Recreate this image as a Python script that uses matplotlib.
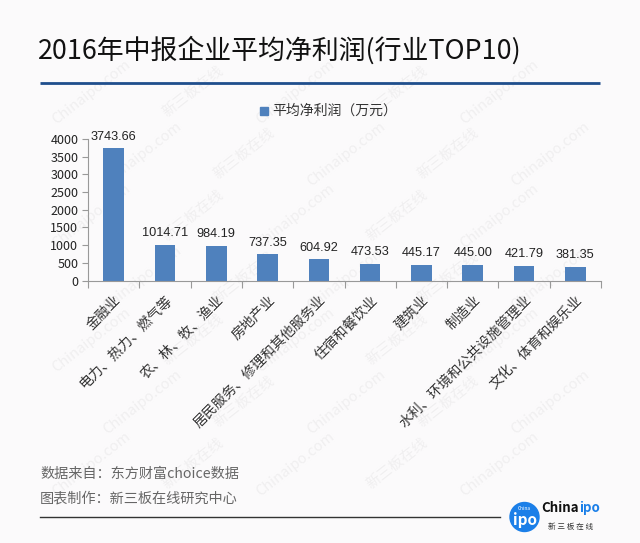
import matplotlib.pyplot as plt
from matplotlib.patches import Circle, Rectangle

plt.rcParams['font.family'] = ['Noto Sans CJK SC', 'DejaVu Sans']

categories = ["金融业", "电力、热力、燃气等", "农、林、牧、渔业", "房地产业", "居民服务、修理和其他服务业",
              "住宿和餐饮业", "建筑业", "制造业", "水利、环境和公共设施管理业", "文化、体育和娱乐业"]
values = [3743.66, 1014.71, 984.19, 737.35, 604.92, 473.53, 445.17, 445.00, 421.79, 381.35]
y_ticks = [0, 500, 1000, 1500, 2000, 2500, 3000, 3500, 4000]

W, H = 640, 543
bg = "#fbfafb"
bar_color = "#4f81bd"

fig = plt.figure(figsize=(6.4, 5.43), dpi=100, facecolor=bg)

# overlay in pixel coords for title, footer, watermark
over = fig.add_axes([0, 0, 1, 1])
over.set_xlim(0, W)
over.set_ylim(H, 0)
over.axis("off")

# watermark, kept clear of the picture edges
for row in range(-1, 9):
    for col in range(-1, 7):
        x = col * 102 + (row % 2) * 51 + 40
        y = row * 62 + 30
        txt = "新三板在线" if (row + col) % 2 == 0 else "Chinaipo.com"
        if x < 50 or x > 590 or y < 35 or y > 505:
            continue
        over.text(x, y, txt, rotation=38, fontsize=10.5, color="#f0eff0", ha="center", va="center", zorder=0)

over.text(38, 50, "2016年中报企业平均净利润(行业TOP10)", fontsize=19.4, color="#111111", va="center",
          fontweight="medium")
over.plot([40, 600], [83, 83], color="#1f4e8c", lw=2, solid_capstyle="butt")

over.add_patch(Rectangle((260, 107), 8, 8, color=bar_color, zorder=2))
over.text(272, 111, "平均净利润（万元）", fontsize=10, color="#333333", va="center")

over.text(40, 474, "数据来自：东方财富choice数据", fontsize=10.2, color="#666666", va="center")
over.text(40, 499, "图表制作：新三板在线研究中心", fontsize=10.2, color="#666666", va="center")
over.plot([40, 500], [517, 517], color="#333333", lw=1)

# logo
over.add_patch(Circle((524.5, 517), 14.5, color="#1b7fe8", zorder=2))
over.text(524.5, 509, "China", fontsize=3.5, color="white", ha="center", va="center")
over.text(524.5, 520, "ipo", fontsize=11, color="white", ha="center", va="center", fontweight="bold")
over.text(579, 508, "China", fontsize=9.6, color="#111111", ha="right", va="center", fontweight="bold")
over.text(579, 508, "ipo", fontsize=9.6, color="#1b7fe8", ha="left", va="center", fontweight="bold")
over.text(571, 527, "新 三 板 在 线", fontsize=5.5, color="#333333", ha="center", va="center")

# chart
ax = fig.add_axes([88 / W, 1 - 280.5 / H, (601 - 88) / W, (280.5 - 139) / H])
ax.patch.set_alpha(0)
x = list(range(len(categories)))
ax.bar(x, values, width=0.4, color=bar_color)
ax.set_xlim(-0.5, 9.5)
ax.set_ylim(0, 4000)
ax.set_yticks(y_ticks)
ax.tick_params(axis="y", labelsize=9, length=4, color="#999999", labelcolor="#222222", pad=3, width=0.8)
ax.set_xticks([i - 0.5 for i in range(11)])
ax.tick_params(axis="x", length=5, color="#999999", width=0.8, labelbottom=False, direction="out")
for s in ["top", "right"]:
    ax.spines[s].set_visible(False)
for s in ["left", "bottom"]:
    ax.spines[s].set_color("#999999")
    ax.spines[s].set_linewidth(0.8)

for i, v in enumerate(values):
    ax.annotate(f"{v:.2f}", (i, v), xytext=(0, 4), textcoords="offset points", ha="center", va="bottom",
                fontsize=9.2, color="#222222", family=["Liberation Sans"])

for i, c in enumerate(categories):
    ax.annotate(c, (i, 0), xytext=(0, -9), textcoords="offset points", rotation=45, rotation_mode="anchor",
                ha="right", va="top", fontsize=10, color="#333333")

fig.savefig("out.png", dpi=100, facecolor=bg)
